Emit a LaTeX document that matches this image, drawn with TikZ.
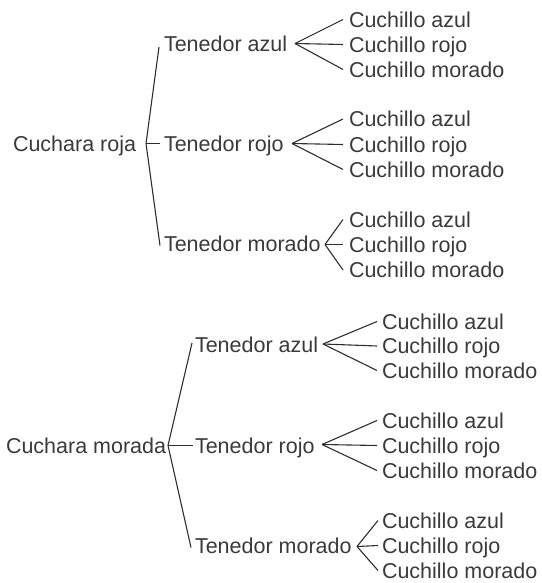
\documentclass[tikz,border=0pt]{standalone}
\usepackage{fontspec}
\setmainfont{Liberation Sans}
\definecolor{txt}{HTML}{3A3A3A}
\definecolor{ln}{HTML}{2E2E2E}
\begin{document}
\begin{tikzpicture}[x=1pt,y=1pt,
  lbl/.style={anchor=west,inner sep=0pt,outer sep=0pt,text height=15.5pt,text depth=0pt,
    font=\fontsize{21.5}{25}\selectfont,text=txt},
  link/.style={draw=ln,line width=1.1pt}]
\useasboundingbox (0,0) rectangle (541,-583);
% ---------- top tree ----------
\node[lbl] (r)  at (13,-143.5) {Cuchara roja};
\node[lbl] (ra) at (164,-44)   {Tenedor azul};
\node[lbl] (rr) at (164,-143.5){Tenedor rojo};
\node[lbl] (rm) at (164,-243.5){Tenedor morado};
\node[lbl] (raa) at (349,-19.5) {Cuchillo azul};
\node[lbl] (rar) at (349,-44.5) {Cuchillo rojo};
\node[lbl] (ram) at (349,-69.5) {Cuchillo morado};
\node[lbl] (rra) at (349,-119)  {Cuchillo azul};
\node[lbl] (rrr) at (349,-144.5){Cuchillo rojo};
\node[lbl] (rrm) at (349,-169.5){Cuchillo morado};
\node[lbl] (rma) at (349,-219.5){Cuchillo azul};
\node[lbl] (rmr) at (349,-244.5){Cuchillo rojo};
\node[lbl] (rmm) at (349,-270)  {Cuchillo morado};
\coordinate (vr)  at (146,-143.5);
\coordinate (vra) at (295,-43.5);
\coordinate (vrr) at (292,-143.5);
\coordinate (vrm) at (325,-244.5);
\draw[link] (vr) -- ([xshift=-5pt,yshift=-3pt]ra.west);
\draw[link] (vr) -- ([xshift=-4pt]rr.west);
\draw[link] (vr) -- ([xshift=-4pt,yshift=-2pt]rm.west);
\foreach \c in {raa,rar,ram} \draw[link] (vra) -- ([xshift=-6pt]\c.west);
\foreach \c in {rra,rrr,rrm} \draw[link] (vrr) -- ([xshift=-6pt]\c.west);
\foreach \c in {rma,rmr,rmm} \draw[link] (vrm) -- ([xshift=-6pt]\c.west);
% ---------- bottom tree ----------
\node[lbl] (m)  at (6,-445.5)  {Cuchara morada};
\node[lbl] (ma) at (195,-345)  {Tenedor azul};
\node[lbl] (mr) at (195,-445.5){Tenedor rojo};
\node[lbl] (mm) at (195,-545.5){Tenedor morado};
\node[lbl] (maa) at (382,-321.5){Cuchillo azul};
\node[lbl] (mar) at (382,-346)  {Cuchillo rojo};
\node[lbl] (mam) at (382,-370.5){Cuchillo morado};
\node[lbl] (mra) at (382,-420.5){Cuchillo azul};
\node[lbl] (mrr) at (382,-445.5){Cuchillo rojo};
\node[lbl] (mrm) at (382,-470.5){Cuchillo morado};
\node[lbl] (mma) at (382,-520.5){Cuchillo azul};
\node[lbl] (mmr) at (382,-545.5){Cuchillo rojo};
\node[lbl] (mmm) at (382,-570.5){Cuchillo morado};
\coordinate (vm)  at (168,-445.5);
\coordinate (vma) at (323,-344);
\coordinate (vmr) at (322,-444.5);
\coordinate (vmm) at (357,-546.5);
\draw[link] (vm) -- ([xshift=-3pt,yshift=2pt]ma.west);
\draw[link] (vm) -- ([xshift=-2pt]mr.west);
\draw[link] (vm) -- ([xshift=-4pt,yshift=-2pt]mm.west);
\foreach \c in {maa,mar,mam} \draw[link] (vma) -- ([xshift=-5pt]\c.west);
\foreach \c in {mra,mrr,mrm} \draw[link] (vmr) -- ([xshift=-5pt]\c.west);
\foreach \c in {mma,mmr,mmm} \draw[link] (vmm) -- ([xshift=-4pt]\c.west);
\end{tikzpicture}
\end{document}
